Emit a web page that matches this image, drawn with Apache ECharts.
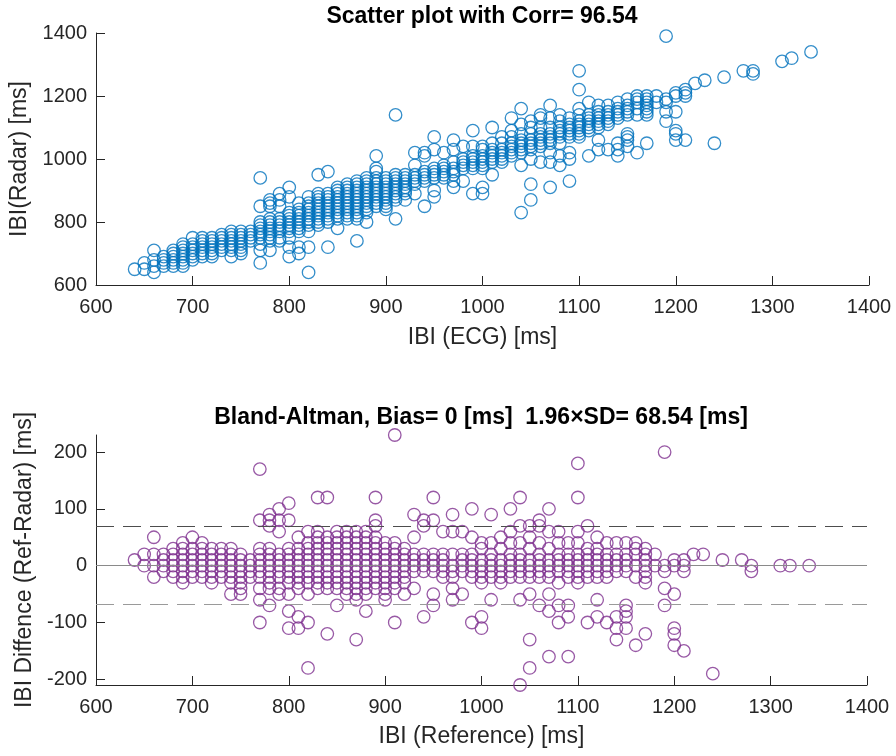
<!DOCTYPE html>
<html>
<head>
<meta charset="utf-8">
<script src="https://cdn.jsdelivr.net/npm/echarts@6/dist/echarts.min.js"></script>
<style>
  html, body { margin: 0; padding: 0; background: #ffffff; }
  #chart { width: 896px; height: 756px; }
</style>
</head>
<body>
<div id="chart"></div>
<script>
// ECG inter-beat intervals (ms), one entry per distinct reference value
const ibiEcgMs = [
  640, 650, 660, 670, 680, 690, 700, 710, 720, 730, 740, 750, 760,
  770, 780, 790, 800, 810, 820, 830, 840, 850, 860, 870, 880, 890, 900,
  910, 920, 930, 940, 950, 960, 970, 980, 990, 1000, 1010, 1020, 1030,
  1040, 1050, 1060, 1070, 1080, 1090, 1100, 1110, 1120, 1130, 1140, 1150,
  1160, 1170, 1180, 1190, 1200, 1210, 1220, 1230, 1240, 1250, 1270, 1280,
  1310, 1320, 1340
];

// Radar minus ECG interval (ms) for the beats at each reference value above
const ibiDiffMs = [
  [10],
  [20, 0],
  [50, 20, 0, -20],
  [20, 10, 0, -10],
  [30, 20, 10, 0, -10, -20],
  [40, 30, 20, 10, 0, -10, -20, -30],
  [50, 30, 20, 10, 0, -10, -20],
  [40, 30, 20, 10, 0, -10, -20],
  [30, 20, 10, 0, -10, -20, -30],
  [30, 20, 10, 0, -10, -20],
  [30, 20, 10, 0, -10, -20, -30, -50],
  [20, 10, 0, -10, -20, -30, -40, -50],
  [10, 0, -10, -20],
  [170, 80, 30, 20, 10, 0, -10, -20, -40, -60, -100],
  [90, 80, 70, 30, 20, 10, 0, -10, -20, -30, -40, -70],
  [100, 80, 60, 20, 10, 0, -10, -20, -40, -50],
  [110, 80, 30, 20, 10, 0, -10, -20, -30, -50, -80, -110],
  [50, 30, 20, 10, 0, -10, -20, -30, -40, -90, -110],
  [60, 40, 30, 20, 10, 0, -10, -20, -30, -50, -100, -180],
  [120, 60, 50, 40, 30, 20, 10, 0, -10, -20, -30, -40],
  [120, 50, 40, 30, 20, 10, 0, -10, -20, -30, -40, -120],
  [60, 50, 40, 30, 20, 10, 0, -10, -20, -30, -40, -70],
  [60, 50, 40, 30, 20, 10, 0, -10, -20, -30, -40, -50],
  [60, 50, 40, 30, 20, 10, 0, -10, -20, -30, -40, -50, -60, -130],
  [60, 50, 40, 30, 20, 10, 0, -10, -20, -30, -40, -50, -80],
  [120, 80, 70, 50, 40, 30, 20, 10, 0, -10, -20, -30, -40],
  [40, 30, 20, 10, 0, -10, -20, -30, -40, -50, -60],
  [230, 40, 30, 20, 10, 0, -10, -20, -30, -40, -100],
  [30, 20, 10, 0, -10, -20, -30, -50],
  [90, 50, 20, 10, 0, -10, -40],
  [80, 70, 20, 10, 0, -10, -90],
  [120, 80, 20, 10, 0, -10, -50, -70],
  [60, 20, 10, 0, -10, -20],
  [90, 60, 20, 0, -10, -20, -40, -60],
  [60, 20, 10, 0, -10, -50],
  [100, 50, 20, 10, 0, -10, -20, -100],
  [40, 30, 10, 0, -10, -20, -30, -90, -110],
  [90, 40, 20, 10, 0, -10, -20, -60],
  [50, 30, 10, 0, -10, -20, -30],
  [100, 60, 40, 20, 10, 0, -10, -20],
  [120, 70, 40, 20, 10, 0, -10, -20, -60, -210],
  [70, 50, 30, 10, 0, -10, -20, -50, -130, -180],
  [80, 70, 40, 20, 10, 0, -10, -20, -70],
  [100, 60, 30, 10, 0, -10, -20, -50, -80, -160],
  [60, 40, 20, 10, 0, -10, -30, -70, -100],
  [40, 20, 10, 0, -10, -20, -70, -90, -160],
  [180, 120, 60, 40, 20, 10, 0, -10, -20, -30],
  [70, 30, 20, 10, 0, -10, -20, -100],
  [50, 30, 20, 10, 0, -10, -20, -60, -90],
  [40, 20, 10, 0, -10, -20, -100],
  [40, 20, 10, 0, -10, -90, -110, -130],
  [40, 20, 10, 0, -10, -70, -80, -90, -110],
  [40, 30, 20, 0, -20, -140],
  [30, 20, 10, 0, -10, -20, -30, -120],
  [20, 0],
  [200, 0, -10, -40, -70],
  [10, 0, -50, -110, -120, -140],
  [10, 0, -10, -150],
  [20],
  [20],
  [-190],
  [10],
  [10],
  [0, -10],
  [0],
  [0],
  [0]
];

const ibiTicks = [600, 700, 800, 900, 1000, 1100, 1200, 1300, 1400];
const radarTicks = [600, 800, 1000, 1200, 1400];
const diffTicks = [-200, -100, 0, 100, 200];

const corrPercent = 96.54;
const biasMs = 0;
const limitMs = 68.54;

// Flatten the per-beat groups into point lists for both panels
const scatterPoints = [];
const blandAltmanPoints = [];
ibiEcgMs.forEach((ecg, i) => {
  ibiDiffMs[i].forEach(d => {
    scatterPoints.push([ecg, ecg + d]);
    blandAltmanPoints.push([ecg, d]);
  });
});

const FONT = '"Liberation Sans", Arial, Helvetica, sans-serif';
const INK = '#262626';
const plain = v => String(v);

function valueAxis(extra) {
  return Object.assign({
    type: 'value',
    axisLine: { show: true, onZero: false, lineStyle: { color: INK, width: 1 } },
    axisTick: { show: true, inside: true, length: 9, lineStyle: { color: INK, width: 1 } },
    splitLine: { show: false },
    nameTextStyle: { color: INK, fontSize: 23, fontFamily: FONT },
    nameLocation: 'middle'
  }, extra);
}

const chart = echarts.init(document.getElementById('chart'), null, { renderer: 'canvas' });

chart.setOption({
  animation: false,
  backgroundColor: '#ffffff',
  grid: [
    { left: 96, top: 33, width: 773, height: 252 },
    { left: 96, top: 435, width: 771, height: 250 }
  ],
  graphic: [
    {
      type: 'text', x: 482, y: 17,
      style: {
        text: 'Scatter plot with Corr= ' + corrPercent.toFixed(2),
        align: 'center', verticalAlign: 'middle',
        fontSize: 23, fontWeight: 'bold', fontFamily: FONT, fill: '#000000'
      }
    },
    {
      type: 'text', x: 481, y: 418,
      style: {
        text: 'Bland-Altman, Bias= ' + biasMs + ' [ms]  1.96\u00d7SD= ' + limitMs.toFixed(2) + ' [ms]',
        align: 'center', verticalAlign: 'middle',
        fontSize: 23, fontWeight: 'bold', fontFamily: FONT, fill: '#000000'
      }
    }
  ],
  xAxis: [
    valueAxis({
      gridIndex: 0, min: ibiTicks[0], max: ibiTicks[ibiTicks.length - 1], interval: 100,
      name: 'IBI (ECG) [ms]', nameGap: 41,
      axisLabel: { color: INK, fontSize: 20, fontFamily: FONT, margin: 12, formatter: plain }
    }),
    valueAxis({
      gridIndex: 1, min: ibiTicks[0], max: ibiTicks[ibiTicks.length - 1], interval: 100,
      name: 'IBI (Reference) [ms]', nameGap: 40,
      axisLabel: { color: INK, fontSize: 20, fontFamily: FONT, margin: 12, formatter: plain }
    })
  ],
  yAxis: [
    valueAxis({
      gridIndex: 0, min: radarTicks[0], max: radarTicks[radarTicks.length - 1], interval: 200,
      name: 'IBI(Radar) [ms]', nameGap: 55,
      axisLabel: { color: INK, fontSize: 20, fontFamily: FONT, margin: 9, formatter: plain }
    }),
    valueAxis({
      gridIndex: 1, min: -210, max: 230,
      name: 'IBI Diffence (Ref-Radar) [ms]', nameGap: 55,
      axisTick: { show: true, inside: true, length: 9, customValues: diffTicks, lineStyle: { color: INK, width: 1 } },
      axisLabel: { color: INK, fontSize: 20, fontFamily: FONT, margin: 9, customValues: diffTicks, formatter: plain }
    })
  ],
  series: [
    {
      type: 'scatter',
      xAxisIndex: 0, yAxisIndex: 0,
      data: scatterPoints,
      symbol: 'circle', symbolSize: 12.5,
      clip: false,
      itemStyle: { color: 'rgba(0,0,0,0)', borderColor: '#0072BD', borderWidth: 1.3 },
      emphasis: { disabled: true }
    },
    {
      type: 'scatter',
      xAxisIndex: 1, yAxisIndex: 1,
      data: blandAltmanPoints,
      symbol: 'circle', symbolSize: 12.5,
      clip: false,
      itemStyle: { color: 'rgba(0,0,0,0)', borderColor: '#7E2F8E', borderWidth: 1.3 },
      emphasis: { disabled: true },
      markLine: {
        silent: true,
        symbol: ['none', 'none'],
        label: { show: false },
        z: 5,
        data: [
          { yAxis: biasMs, lineStyle: { color: '#8a8a8a', width: 1, type: 'solid' } },
          { yAxis: limitMs, lineStyle: { color: '#4d4d4d', width: 1, type: [18, 9] } },
          { yAxis: -limitMs, lineStyle: { color: '#9a9a9a', width: 1.2, type: [18, 9] } }
        ]
      }
    }
  ]
});
</script>
</body>
</html>
